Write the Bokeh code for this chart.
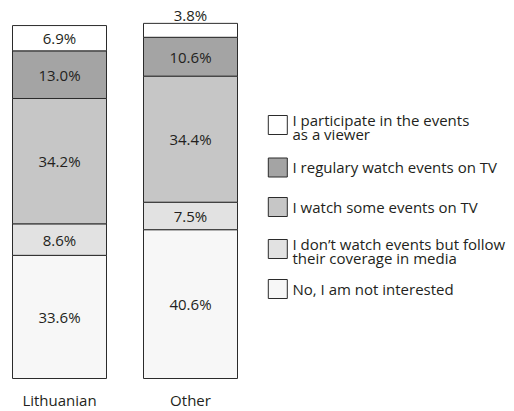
from bokeh.plotting import figure
from bokeh.models import Range1d, ColumnDataSource
from bokeh.embed import file_html
from bokeh.resources import INLINE
from bokeh.core.properties import value

# ---- data ----
groups = ["Lithuanian", "Other"]
series_names = [
    "No, I am not interested",
    "I don\u2019t watch events but follow\ntheir coverage in media",
    "I watch some events on TV",
    "I regulary watch events on TV",
    "I participate in the events\nas a viewer",
]
not_interested = [33.6, 40.6]
follow_media = [8.6, 7.5]
watch_some = [34.2, 34.4]
regularly = [13.0, 10.6]
participate = [6.9, 3.8]
series_values = [not_interested, follow_media, watch_some, regularly, participate]
colors = ["#f7f7f7", "#e2e2e2", "#c6c6c6", "#a4a4a4", "#ffffff"]

FONT = "Open Sans"
FS = "15px"
TXT = "#231f20"

W, H = 514, 411
PX_X = 131.0        # pixels per category unit
PX_Y = 3.665        # pixels per percent
ZERO_Y = 378.0      # screen y of the baseline
x0 = -59.0 / PX_X
y_top = ZERO_Y / PX_Y
y_bot = -(H - ZERO_Y) / PX_Y

p = figure(width=W, height=H, output_backend="svg", toolbar_location=None,
           x_range=Range1d(x0, x0 + W / PX_X), y_range=Range1d(y_bot, y_top),
           x_axis_location=None, y_axis_location=None,
           min_border=0, min_border_left=0, min_border_right=0,
           min_border_top=0, min_border_bottom=0)
p.outline_line_color = None
p.grid.visible = False
p.background_fill_color = "white"
p.border_fill_color = "white"

xs = list(range(len(groups)))
bottoms = [0.0] * len(groups)
lab_x, lab_y, lab_t, lab_off = [], [], [], []
for vals, col in zip(series_values, colors):
    tops = [b + v for b, v in zip(bottoms, vals)]
    src = ColumnDataSource(dict(x=xs, bottom=bottoms, top=tops))
    p.vbar(x="x", bottom="bottom", top="top", width=94 / PX_X, source=src,
           fill_color=col, line_color="#2b2b2b", line_width=1)
    for i, v in enumerate(vals):
        lab_x.append(xs[i])
        if v < 5:
            lab_y.append(tops[i])
            lab_off.append(-8)
        else:
            lab_y.append(bottoms[i] + v / 2)
            lab_off.append(0)
        lab_t.append(f"{v:.1f}%")
    bottoms = tops

p.text(x=lab_x, y=lab_y, text=lab_t, y_offset=lab_off,
       text_align="center", text_baseline="middle",
       text_font=value(FONT), text_font_size=FS, text_color=TXT)

# category labels
p.text(x=xs, y=[0] * len(groups), text=groups, y_offset=21,
       text_align="center", text_baseline="middle",
       text_font=value(FONT), text_font_size=FS, text_color=TXT)

# legend (top to bottom = reverse stacking order)
def dx(px):
    return x0 + px / PX_X

def dy(py):
    return (ZERO_Y - py) / PX_Y

row_centers = [124.5, 167, 206.5, 248.5, 288.5]
leg_names = series_names[::-1]
leg_colors = colors[::-1]
p.scatter(x=[dx(277.3)] * 5, y=[dy(c) for c in row_centers], marker="square",
          size=19, fill_color=leg_colors, line_color="#2b2b2b", line_width=1)
p.text(x=[dx(292)] * 5,
       y=[dy(c + (2 if "\n" in n else -0.5)) for c, n in zip(row_centers, leg_names)],
       text=leg_names, text_align="left", text_baseline="middle",
       text_line_height=0.74,
       text_font=value(FONT), text_font_size=FS, text_color=TXT)

open("out.html", "w").write(file_html(p, INLINE))
